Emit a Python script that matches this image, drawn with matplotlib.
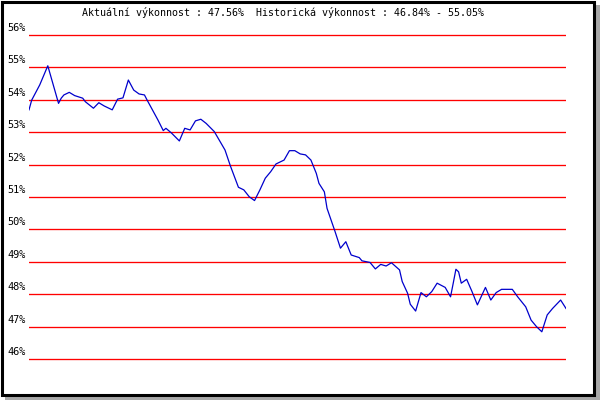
import matplotlib
matplotlib.use("Agg")
import matplotlib.pyplot as plt
from matplotlib.patches import Rectangle

title = "Aktuální výkonnost : 47.56%  Historická výkonnost : 46.84% - 55.05%"

days = [0, 1, 4, 7, 11, 12, 13, 15, 17, 20, 21, 24, 26, 28, 31, 33, 35, 37, 39, 41,
        43, 44, 48, 50, 51, 53, 56, 58, 60, 62, 64, 66, 69, 73, 75, 77, 78, 80, 82, 84,
        86, 88, 90, 92, 95, 97, 99, 101, 103, 105, 107, 108, 110, 111, 114, 116, 118, 120, 123, 124,
        127, 129, 131, 133, 135, 138, 139, 141, 142, 144, 146, 148, 150, 152, 155, 157, 158, 159, 160, 161,
        163, 165, 167, 170, 172, 174, 176, 180, 182, 185, 187, 189, 191, 193, 195, 198, 200]
perf = [53.69, 53.99, 54.46, 55.05, 53.89, 54.05, 54.15, 54.23, 54.13, 54.05,
        53.94, 53.74, 53.91, 53.81, 53.69, 54.02, 54.06, 54.61, 54.30, 54.18,
        54.15, 53.99, 53.38, 53.05, 53.12, 52.98, 52.73, 53.12, 53.07, 53.35,
        53.40, 53.27, 53.02, 52.45, 51.96, 51.52, 51.30, 51.22, 51.01, 50.89,
        51.22, 51.58, 51.78, 52.02, 52.14, 52.43, 52.43, 52.33, 52.30, 52.14,
        51.73, 51.42, 51.16, 50.65, 49.93, 49.42, 49.62, 49.21, 49.13, 49.03,
        48.98, 48.78, 48.92, 48.87, 48.97, 48.75, 48.39, 48.03, 47.69, 47.48,
        48.05, 47.92, 48.08, 48.34, 48.21, 47.92, 48.34, 48.77, 48.69, 48.34,
        48.46, 48.08, 47.67, 48.21, 47.82, 48.05, 48.15, 48.15, 47.92, 47.61,
        47.20, 47.00, 46.84, 47.36, 47.56, 47.82, 47.56]

levels = [46, 47, 48, 49, 50, 51, 52, 53, 54, 55, 56]
level_labels = [f"{v}%" for v in levels]

W, H = 600, 400
fig = plt.figure(figsize=(6, 4), dpi=100)
fig.patch.set_facecolor("white")

# shadow and frame
fig.add_artist(Rectangle((5 / W, 0), 595 / W, 395 / H, transform=fig.transFigure,
                         facecolor="#a8a8a8", edgecolor="none", zorder=0))
fig.add_artist(Rectangle((1.5 / W, 5.5 / H), 592.5 / W, 393 / H, transform=fig.transFigure,
                         facecolor="white", edgecolor="black", linewidth=2.2, zorder=0.5))

ax = fig.add_axes([29 / W, 36 / H, 537 / W, 334 / H])
ax.set_facecolor("none")
ax.set_zorder(2)
for s in ax.spines.values():
    s.set_visible(False)

for v in levels:
    ax.axhline(v, color="#ff0000", linewidth=0.95, zorder=1)

ax.plot(days, perf, color="#0000cc", linewidth=0.9, zorder=3)

ax.set_xlim(days[0], days[-1])
ax.set_ylim(46 - 5 / 32.4, 56 + 5 / 32.4)
ax.set_xticks([])
ax.set_yticks([])

mono = "DejaVu Sans Mono"
for v, lab in zip(levels, level_labels):
    ax.annotate(lab, xy=(0, v), xycoords=("axes fraction", "data"),
                xytext=(-2.2, 1.5), textcoords="offset points",
                ha="right", va="bottom", fontsize=7.4, family=mono, color="black")

fig.text(283 / W, 1 - 13 / H, title, ha="center", va="center",
         fontsize=7.2, family=mono, color="black")

fig.savefig("out.png", dpi=100)
